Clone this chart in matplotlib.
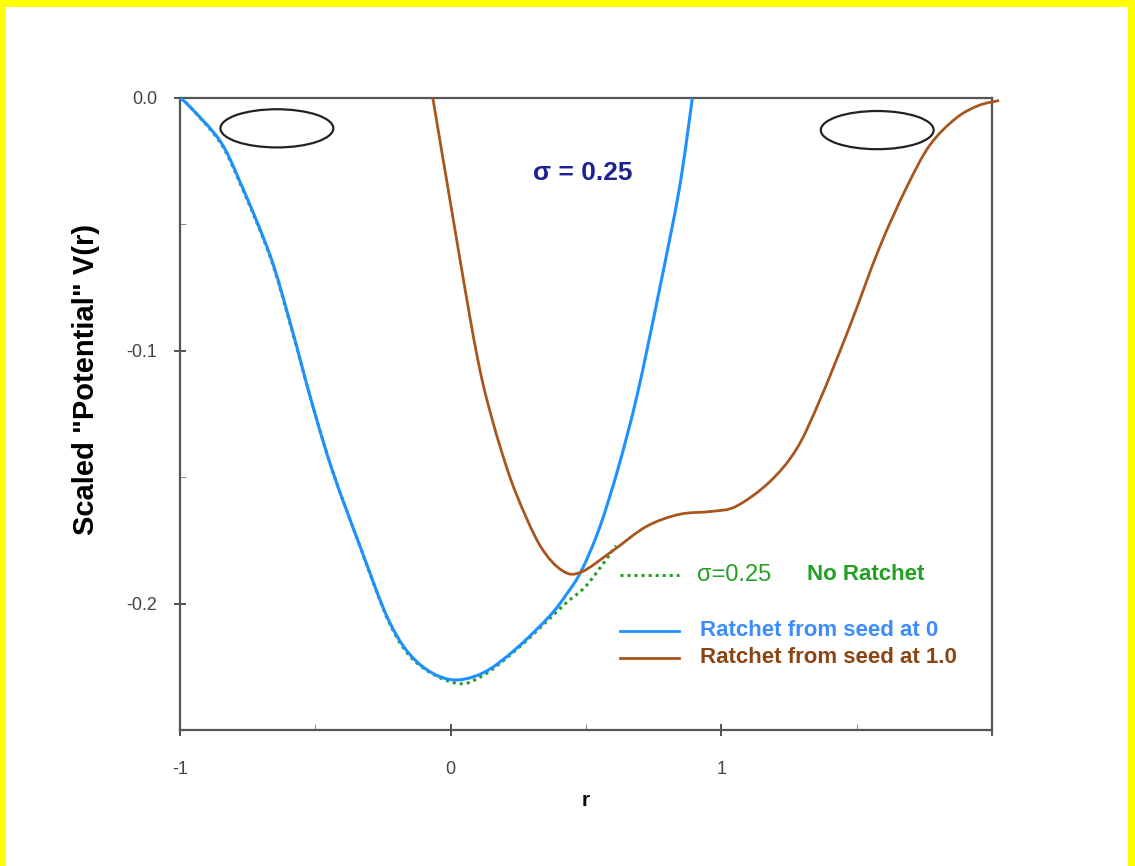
import numpy as np
import matplotlib
matplotlib.use("Agg")
import matplotlib.pyplot as plt
from matplotlib.patches import Ellipse, Rectangle, PathPatch
from matplotlib.path import Path

plt.rcParams['font.family'] = ['Liberation Sans', 'DejaVu Sans']
plt.rcParams['axes.unicode_minus'] = False

# sigma = 0.25, no ratchet
green_x = [-1.0, -0.963, -0.852, -0.779, -0.668, -0.594, -0.509, -0.435, -0.336,
           -0.225, -0.125, 0.02, 0.118, 0.24, 0.365, 0.428, 0.5, 0.585, 0.61]
green_y = [0.0, -0.0035, -0.0175, -0.0335, -0.0625, -0.089, -0.122, -0.148, -0.177,
           -0.208, -0.2235, -0.2315, -0.2285, -0.2185, -0.206, -0.1996, -0.193, -0.181, -0.177]

# ratchet from seed at 0
blue_x = [-1.0, -0.963, -0.852, -0.779, -0.668, -0.594, -0.509, -0.435, -0.336,
          -0.225, -0.125, -0.004, 0.118, 0.24, 0.365, 0.43, 0.483, 0.55, 0.62,
          0.69, 0.771, 0.845, 0.893]
blue_y = [0.0, -0.0035, -0.017, -0.033, -0.062, -0.0885, -0.122, -0.148, -0.177,
          -0.2075, -0.223, -0.230, -0.2275, -0.218, -0.205, -0.196, -0.187, -0.170, -0.146,
          -0.117, -0.076, -0.0357, 0.0]

# ratchet from seed at 1.0
brown_x = [-0.066, 0.011, 0.074, 0.107, 0.133, 0.18, 0.24, 0.33, 0.413, 0.483,
           0.60, 0.723, 0.845, 0.967, 1.055, 1.177, 1.277, 1.362, 1.472, 1.583,
           1.683, 1.77, 1.867, 1.95, 2.026]
brown_y = [0.0, -0.049, -0.0885, -0.107, -0.119, -0.137, -0.156, -0.177, -0.187, -0.1875,
           -0.179, -0.1695, -0.1647, -0.1635, -0.1615, -0.152, -0.139, -0.120, -0.091, -0.0595,
           -0.0357, -0.0187, -0.008, -0.003, -0.001]

x_ticks = [-1, 0, 1, 2]
x_ticklabels = ['-1', '0', '1', '']
y_ticks = [-0.2, -0.1, 0.0]
y_ticklabels = ['-0.2', '-0.1', '0.0']

# ring markers near the two outer edges (centre x, centre y)
ring_x = [-0.642, 1.576]
ring_y = [-0.012, -0.0127]

c_green = '#22a022'
c_blue = '#1e90ff'
c_brown = '#a8561e'


def smooth_path(xs, ys):
    # Catmull-Rom through the points, written as cubic Bezier segments
    pts = np.column_stack([xs, ys])
    n = len(pts)
    verts = [pts[0]]
    codes = [Path.MOVETO]
    for i in range(n - 1):
        p0 = pts[max(i - 1, 0)]
        p1 = pts[i]
        p2 = pts[i + 1]
        p3 = pts[min(i + 2, n - 1)]
        verts += [p1 + (p2 - p0) / 6, p2 - (p3 - p1) / 6, p2]
        codes += [Path.CURVE4] * 3
    return Path(verts, codes)


fig = plt.figure(figsize=(11.35, 8.66), dpi=100)
fig.patch.set_facecolor('white')

# yellow frame round the slide
for r in [(0, 0, 6 / 1135, 1), (0, 1 - 7 / 866, 1, 7 / 866), (1 - 7 / 1135, 0, 7 / 1135, 1)]:
    fig.patches.append(Rectangle(r[:2], r[2], r[3], transform=fig.transFigure,
                                 facecolor='#ffff00', edgecolor='none', zorder=0))

ax = fig.add_axes([180 / 1135, 1 - 730 / 866, 812 / 1135, 632 / 866])

ax.add_patch(PathPatch(smooth_path(green_x, green_y), fill=False, edgecolor=c_green,
                       lw=2.2, ls=(0, (1.0, 1.3)), zorder=2))
ax.add_patch(PathPatch(smooth_path(blue_x, blue_y), fill=False, edgecolor=c_blue,
                       lw=2.2, zorder=3))
ax.add_patch(PathPatch(smooth_path(brown_x, brown_y), fill=False, edgecolor=c_brown,
                       lw=2.0, zorder=4, clip_on=False))

for cx, cy in zip(ring_x, ring_y):
    ax.add_patch(Ellipse((cx, cy), 0.417, 0.0151, facecolor='none',
                         edgecolor='#222222', lw=1.6))

ax.set_xlim(-1, 2)
ax.set_ylim(-0.25, 0.0)
ax.set_xticks(x_ticks)
ax.set_xticklabels(x_ticklabels)
ax.set_xticks([-0.5, 0.5, 1.5], minor=True)
ax.set_yticks(y_ticks)
ax.set_yticklabels(y_ticklabels)
ax.set_yticks([-0.25, -0.15, -0.05], minor=True)
ax.tick_params(which='major', direction='inout', length=9, width=1.2,
               labelsize=13, labelcolor='#444444', color='#333333')
ax.tick_params(axis='x', which='major', pad=18)
ax.tick_params(axis='y', which='major', pad=12)
ax.tick_params(which='minor', direction='in', length=4, color='#777777')
for s in ax.spines.values():
    s.set_color('#555555')
    s.set_linewidth(1.6)

ax.set_xlabel('r', fontsize=15, fontweight='bold', labelpad=9)
ax.set_ylabel('Scaled "Potential" V(r)', fontsize=21, fontweight='bold')
ax.yaxis.set_label_coords(-0.0985, 0.554)

ax.text(0.487, -0.0298, '\u03c3 = 0.25', fontsize=19, fontweight='bold',
        color='#1c2390', ha='center', va='center')

# legend drawn by hand, in axes fractions
tr = ax.transAxes
ax.plot([0.5417, 0.615], [0.246, 0.246], color=c_green, lw=2.2, ls=(0, (1.0, 1.3)),
        transform=tr)
ax.text(0.637, 0.246, '\u03c3=0.25', fontsize=17, color=c_green, va='center', transform=tr)
ax.text(0.772, 0.246, 'No Ratchet', fontsize=16, fontweight='bold', color=c_green,
        va='center', transform=tr)
ax.plot([0.5417, 0.615], [0.1568, 0.1568], color=c_blue, lw=2.0, transform=tr)
ax.text(0.640, 0.1568, 'Ratchet from seed at 0', fontsize=16, fontweight='bold',
        color='#3d8bff', va='center', transform=tr)
ax.plot([0.5417, 0.615], [0.114, 0.114], color=c_brown, lw=2.0, transform=tr)
ax.text(0.640, 0.114, 'Ratchet from seed at 1.0', fontsize=16, fontweight='bold',
        color='#8b4513', va='center', transform=tr)

fig.savefig('out.png', dpi=100, facecolor='white')
